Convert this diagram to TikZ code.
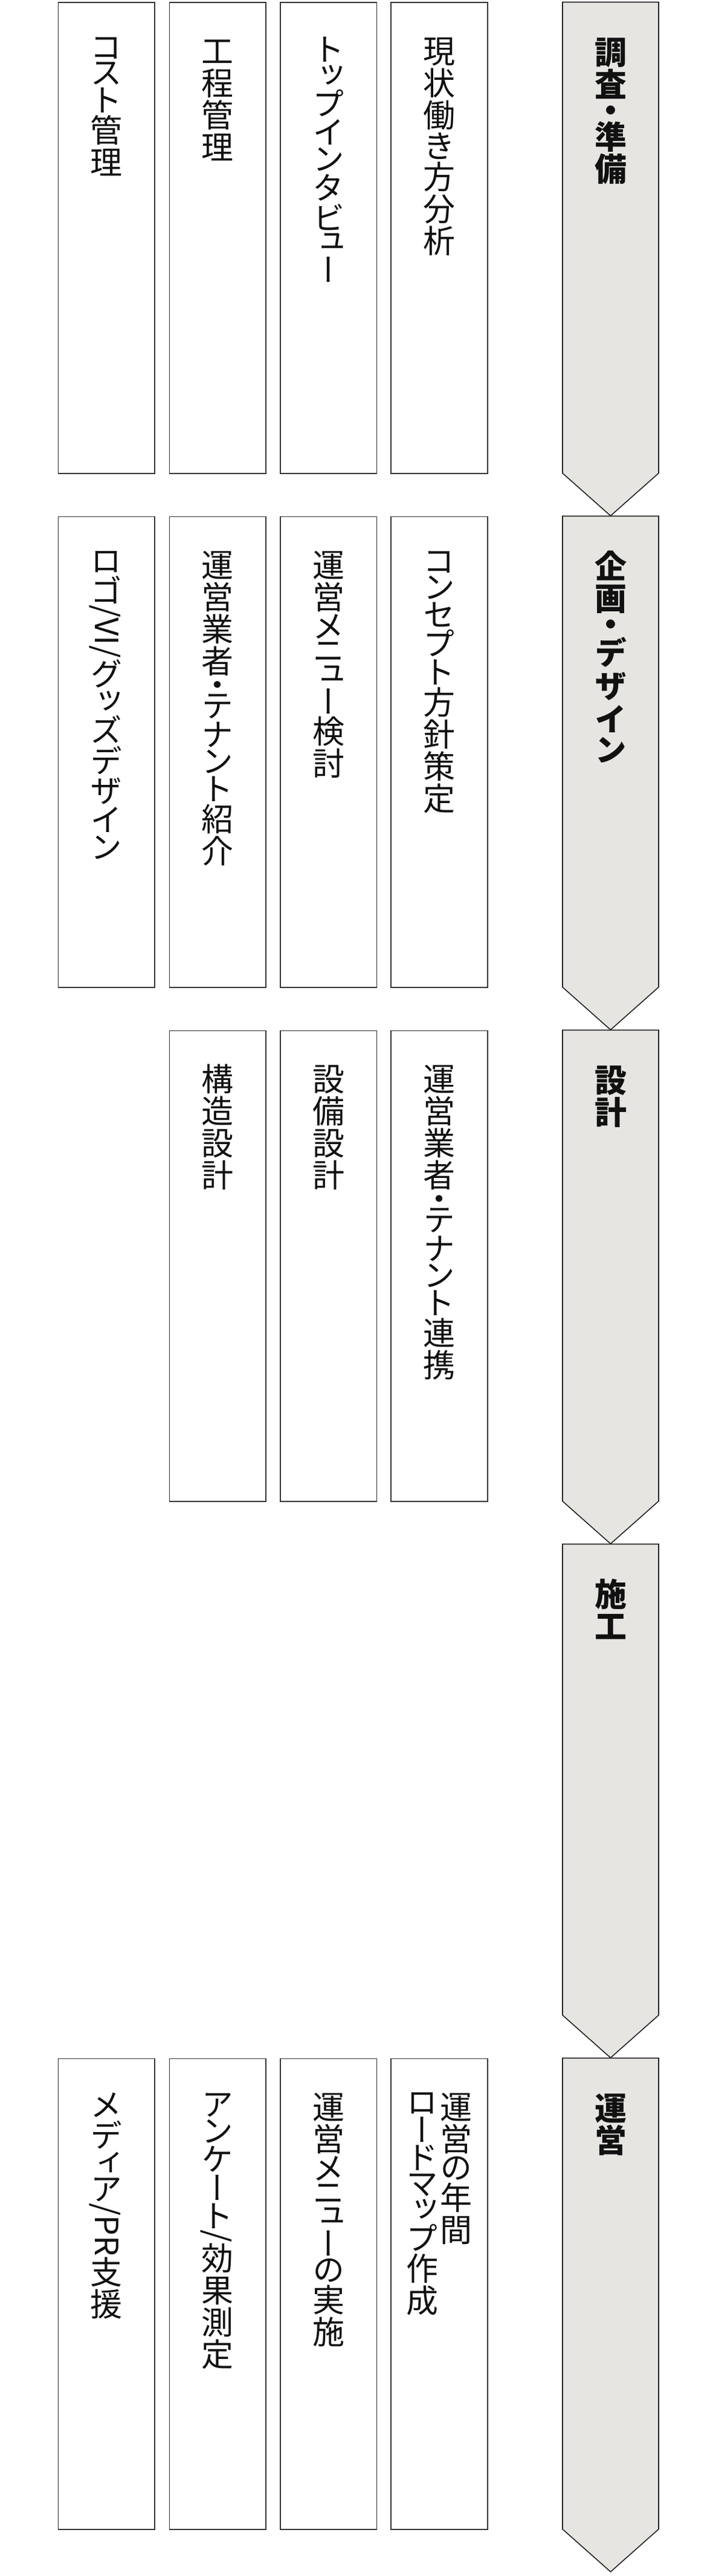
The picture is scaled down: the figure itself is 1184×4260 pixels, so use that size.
\documentclass[tikz,border=0pt]{standalone}
\usepackage{fontspec}
\newfontfamily\jpv[RawFeature=+vert]{Noto Sans CJK JP}
\newfontfamily\jph{Noto Sans CJK JP}
\definecolor{stagefill}{HTML}{E6E5E1}
\definecolor{boxedge}{HTML}{353535}
\definecolor{arrowedge}{HTML}{222222}
\definecolor{inkcol}{HTML}{111111}
\newdimen\jgap \jgap=5pt
\newdimen\jdotcell \jdotcell=26pt
% kanji: full 1em cell
\newcommand\jkanji[1]{\hbox to 1em{\hss\vrule height .88em depth .12em width 0pt\relax#1\hss}}
% kana: proportional cell (ink extent plus a small gap)
\newcommand\jkana[1]{\vbox{\kern.5\jgap\hbox to 1em{\hss#1\hss}\kern.5\jgap}}
% middle dot, centred in a short cell
\newcommand\jdot{\vbox to \jdotcell{\vss\hbox to 1em{\hss\vrule height .88em depth .12em width 0pt\relax ・\hss}\vss}}
% a run of Latin text, turned clockwise as in vertical writing
\newcommand\jrot[1]{\hbox to 1em{\hss\rotatebox{-90}{\jph\vrule height .88em depth .12em width 0pt\relax#1}\hss}}
\let\jvtEnd\relax
\def\jcell#1{\ifnum`#1="30FB \jdot\else\ifnum`#1>"4DFF \jkanji{#1}\else\jkana{#1}\fi\fi}
\def\jvt#1{\jvtA#1\jvtEnd}
\def\jvtA#1{\ifx#1\jvtEnd\else\jcell{#1}\expandafter\jvtA\fi}
\newcommand\jcol[1]{\vtop{\offinterlineskip\kern0pt#1}}
\tikzset{
  taskbox/.style={draw=boxedge, line width=1.6pt, fill=white, minimum width=159.5pt,
    minimum height=778.5pt, anchor=north, inner sep=0pt},
  tasktext/.style={anchor=north, inner sep=0pt, text=inkcol,
    font={\fontsize{53}{53}\selectfont\jpv\jgap=5pt\jdotcell=26pt\relax}},
  stagetext/.style={anchor=north, inner sep=0pt, text=inkcol,
    font={\fontsize{53}{53}\selectfont\jpv\bfseries\jgap=8pt\jdotcell=34pt\relax}},
  stagearrow/.style={draw=arrowedge, line width=1.6pt, fill=stagefill, line join=miter},
}
\begin{document}
\begin{tikzpicture}[x=1pt, y=-1pt]
\useasboundingbox (0,0) rectangle (1184,4260);
% stage arrows
\foreach \k/\nm in {0/st1,1/st2,2/st3,3/st4,4/st5}{
  \pgfmathsetmacro{\tp}{3.5+850*\k}
  \draw[stagearrow] (931,\tp) -- (1090,\tp) -- (1090,\tp+779) -- (1010.5,\tp+849.5)
     -- (931,\tp+779) -- cycle;
  \coordinate (\nm) at (1010.5,\tp);
}
% stage headings
\node[stagetext] (h1) at ([yshift=-56pt]st1) {\jcol{\jvt{調査・準備}}};
\node[stagetext] (h2) at ([yshift=-56pt]st2) {\jcol{\jvt{企画・デザイン}}};
\node[stagetext] (h3) at ([yshift=-56pt]st3) {\jcol{\jvt{設計}}};
\node[stagetext] (h4) at ([yshift=-56pt]st4) {\jcol{\jvt{施工}}};
\node[stagetext] (h5) at ([yshift=-56pt]st5) {\jcol{\jvt{運営}}};

% stage 1
\node[taskbox] (a1) at (176.25,3.5) {};
\node[taskbox] (a2) at (360.25,3.5) {};
\node[taskbox] (a3) at (543.75,3.5) {};
\node[taskbox] (a4) at (727,3.5) {};
\node[tasktext] (ta1) at ([yshift=-55pt]a1.north) {\jcol{\jvt{コスト管理}}};
\node[tasktext] (ta2) at ([yshift=-54pt]a2.north) {\jcol{\jvt{工程管理}}};
\node[tasktext] (ta3) at ([yshift=-55pt]a3.north) {\jcol{\jvt{トップインタビュー}}};
\node[tasktext] (ta4) at ([yshift=-54pt]a4.north) {\jcol{\jvt{現状働き方分析}}};

% stage 2
\node[taskbox] (b1) at (176.25,853.5) {};
\node[taskbox] (b2) at (360.25,853.5) {};
\node[taskbox] (b3) at (543.75,853.5) {};
\node[taskbox] (b4) at (727,853.5) {};
\node[tasktext] (tb1) at ([yshift=-55pt]b1.north) {\jcol{\jvt{ロゴ}\jrot{/VI/}\jvt{グッズデザイン}}};
\node[tasktext] (tb2) at ([yshift=-54pt]b2.north) {\jcol{\jvt{運営業者・テナント紹介}}};
\node[tasktext] (tb3) at ([yshift=-54pt]b3.north) {\jcol{\jvt{運営メニュー検討}}};
\node[tasktext] (tb4) at ([yshift=-55pt]b4.north) {\jcol{\jvt{コンセプト方針策定}}};

% stage 3
\node[taskbox] (c2) at (360.25,1703.5) {};
\node[taskbox] (c3) at (543.75,1703.5) {};
\node[taskbox] (c4) at (727,1703.5) {};
\node[tasktext] (tc2) at ([yshift=-54pt]c2.north) {\jcol{\jvt{構造設計}}};
\node[tasktext] (tc3) at ([yshift=-54pt]c3.north) {\jcol{\jvt{設備設計}}};
\node[tasktext] (tc4) at ([yshift=-54pt]c4.north) {\jcol{\jvt{運営業者・テナント連携}}};

% stage 5
\node[taskbox] (e1) at (176.25,3403.5) {};
\node[taskbox] (e2) at (360.25,3403.5) {};
\node[taskbox] (e3) at (543.75,3403.5) {};
\node[taskbox] (e4) at (727,3403.5) {};
\node[tasktext] (te1) at ([yshift=-55pt]e1.north) {\jcol{\jvt{メディア}\jrot{/PR}\jvt{支援}}};
\node[tasktext] (te2) at ([yshift=-55pt]e2.north) {\jcol{\jvt{アンケート}\jrot{/}\jvt{効果測定}}};
\node[tasktext] (te3) at ([yshift=-54pt]e3.north) {\jcol{\jvt{運営メニューの実施}}};
\node[tasktext] (te4) at ([yshift=-54pt]e4.north) {\hbox{\jcol{\jvt{ロードマップ作成}}\kern3pt\jcol{\jvt{運営の年間}}}};
\end{tikzpicture}
\end{document}
